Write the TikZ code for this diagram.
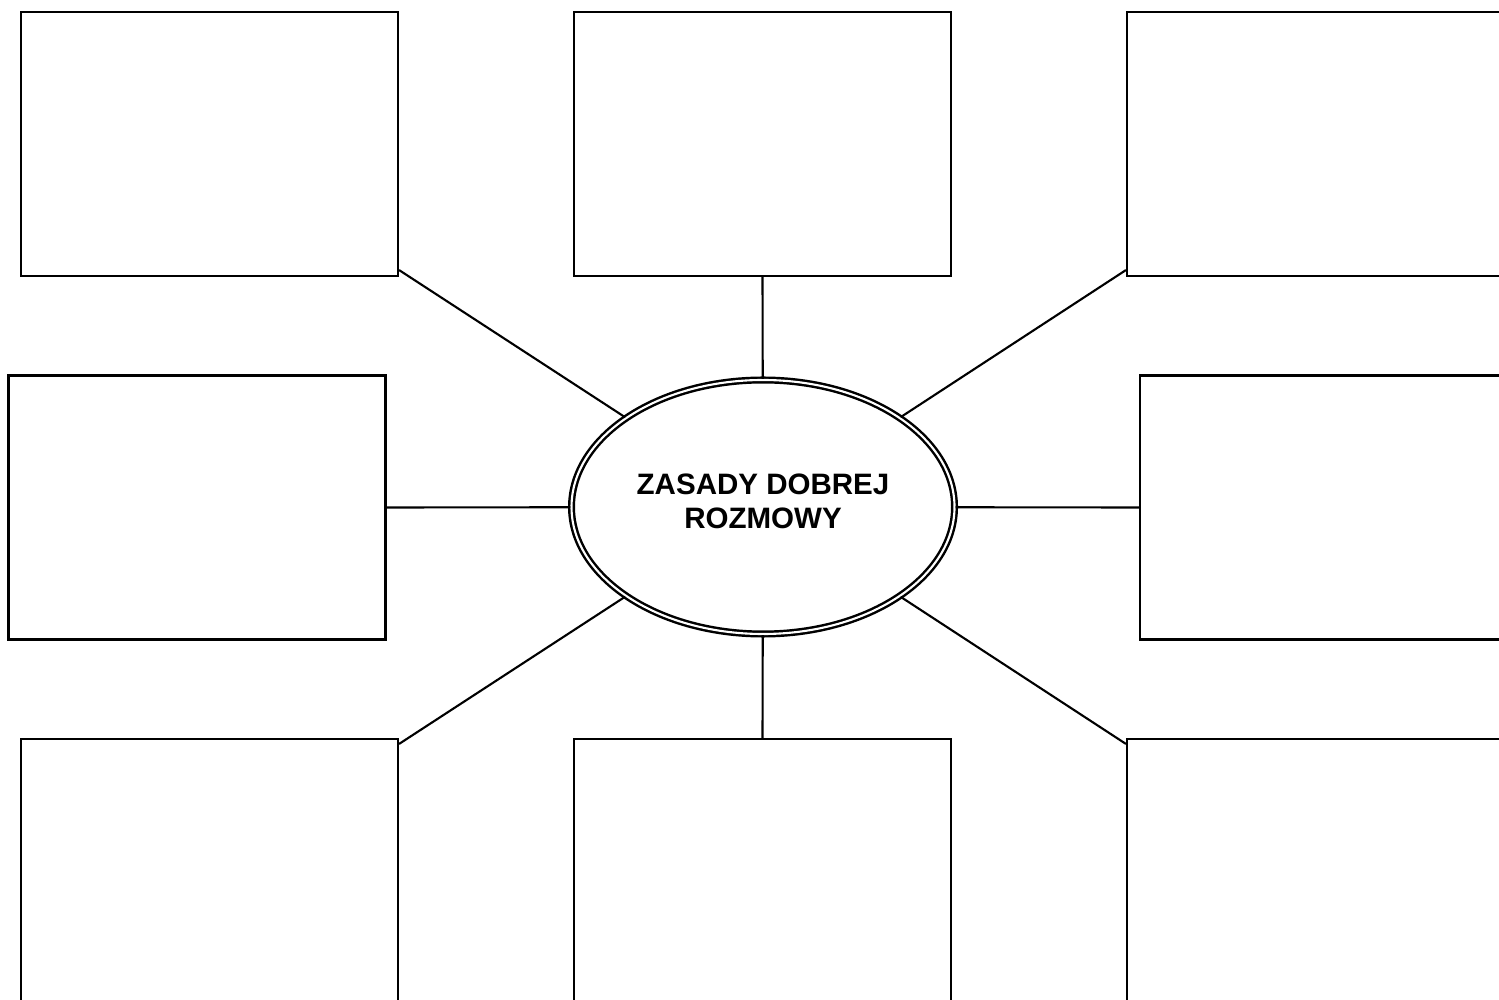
\documentclass[tikz,border=0pt]{standalone}
\usepackage{fontspec}
\setmainfont{Liberation Sans}
\usetikzlibrary{shapes.geometric}

\begin{document}
\begin{tikzpicture}[
        box/.style={rectangle, draw, line width=0.6pt, minimum width=3.77cm, minimum height=2.64cm},
        topic/.style={ellipse, draw, double, line width=0.7pt, double distance=0.6pt, inner sep=0pt,
          minimum width=3.83cm, minimum height=2.54cm, align=center, text depth=3.4pt,
          font=\fontsize{8.4}{9.7}\selectfont\bfseries},
        link/.style={line width=0.6pt}
      ]
      \path[use as bounding box, clip] (0,0) rectangle (14.99,-10);
      \fill[white] (0,0) rectangle (14.99,-10);
      % boxes
      \node[box] (tl) at (2.095,-1.44) {};
      \node[box] (tc) at (7.625,-1.44) {};
      \node[box] (tr) at (13.155,-1.44) {};
      \node[box] (ml) at (1.97,-5.075) {};
      \node[box] (mr) at (13.285,-5.075) {};
      \node[box] (bl) at (2.095,-8.71) {};
      \node[box] (bc) at (7.625,-8.71) {};
      \node[box] (br) at (13.155,-8.71) {};
      % centre
      \node[topic] (topic) at (7.63,-5.07) {ZASADY DOBREJ\\ROZMOWY};
      % links
      \draw[link] ([yshift=0.7mm]tl.south east) -- (topic);
      \draw[link] (tc.south) -- (topic);
      \draw[link] ([yshift=0.7mm]tr.south west) -- (topic);
      \draw[link] (ml.east) -- (topic);
      \draw[link] (mr.west) -- (topic);
      \draw[link] ([yshift=-0.6mm]bl.north east) -- (topic);
      \draw[link] (bc.north) -- (topic);
      \draw[link] ([yshift=-0.6mm]br.north west) -- (topic);
    \end{tikzpicture}
\end{document}
